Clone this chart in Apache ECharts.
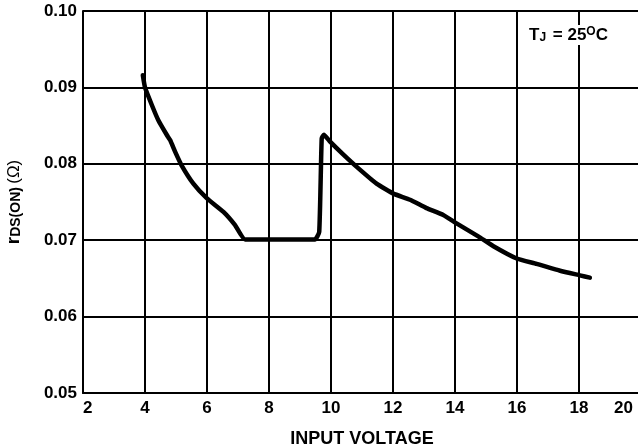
<!DOCTYPE html>
<html>
<head>
<meta charset="utf-8">
<script src="https://cdn.jsdelivr.net/npm/echarts@6/dist/echarts.min.js"></script>
<style>
html,body{margin:0;padding:0;background:#fff;}
#c{width:638px;height:447px;}
</style>
</head>
<body>
<div id="c"></div>
<script>
const xTicks = [2, 4, 6, 8, 10, 12, 14, 16, 18, 20];
const yTicks = [0.05, 0.06, 0.07, 0.08, 0.09, 0.10];
const inputVoltage = [3.93, 4.00, 4.22, 4.43, 4.70, 4.81, 4.97, 5.18, 5.56, 5.99, 6.53, 6.90, 7.23, 9.48, 9.62, 9.70, 9.77, 9.97, 10.40, 10.83, 11.47, 12.01, 12.55, 13.08, 13.62, 14.05, 14.75, 15.24, 15.99, 16.63, 17.39, 18.03, 18.35];
const rdsOn = [0.0916, 0.0900, 0.0877, 0.0857, 0.0838, 0.0831, 0.0816, 0.0798, 0.0774, 0.0755, 0.0737, 0.0720, 0.0701, 0.0701, 0.0711, 0.0833, 0.0838, 0.0829, 0.0812, 0.0796, 0.0774, 0.0761, 0.0753, 0.0742, 0.0733, 0.0722, 0.0705, 0.0692, 0.0676, 0.0669, 0.0660, 0.0654, 0.0651];

const FONT = 'Liberation Sans, Arial, sans-serif';
const chart = echarts.init(document.getElementById('c'), null, {renderer: 'canvas'});
const seriesData = inputVoltage.map((x, i) => [x, rdsOn[i]]);

chart.setOption({
  animation: false,
  backgroundColor: '#fff',
  title: {
    text: '{t|T}{j|J}{t| = 25}{o|O}{t|C}',
    left: 526,
    top: 25,
    padding: [1, 3, 1, 3],
    backgroundColor: '#fff',
    z: 100,
    textStyle: {
      fontFamily: FONT, fontWeight: 'bold', fontSize: 17, color: '#000',
      rich: {
        t: {fontFamily: FONT, fontWeight: 'bold', fontSize: 17, color: '#000', verticalAlign: 'bottom', lineHeight: 18},
        j: {fontFamily: FONT, fontWeight: 'bold', fontSize: 12, color: '#000', verticalAlign: 'bottom', padding: [0, 2, 0, 0], lineHeight: 14},
        o: {fontFamily: FONT, fontWeight: 'bold', fontSize: 12, color: '#000', verticalAlign: 'top', lineHeight: 13}
      }
    }
  },
  grid: {left: 83, right: -3, top: 11, bottom: 54, containLabel: false, outerBoundsMode: 'none'},
  xAxis: {
    type: 'value',
    min: xTicks[0],
    max: xTicks[xTicks.length - 1],
    interval: 2,
    name: 'INPUT VOLTAGE',
    nameLocation: 'middle',
    nameGap: 37,
    nameTextStyle: {fontFamily: FONT, fontWeight: 'bold', fontSize: 18, color: '#000', verticalAlign: 'top'},
    axisLine: {show: true, lineStyle: {color: '#000', width: 2}},
    axisTick: {show: false},
    splitLine: {show: true, lineStyle: {color: '#000', width: 2}},
    axisLabel: {
      fontFamily: FONT, fontWeight: 'bold', fontSize: 17, color: '#000', margin: 7,
      alignMinLabel: 'left', alignMaxLabel: 'right',
      formatter: v => v === 20 ? '{r|20}' : String(v),
      rich: {r: {fontFamily: FONT, fontWeight: 'bold', fontSize: 17, color: '#000', padding: [0, 8, 0, 0]}}
    }
  },
  yAxis: {
    type: 'value',
    min: yTicks[0],
    max: yTicks[yTicks.length - 1],
    interval: 0.01,
    name: '{r|r}{s|DS(ON)} {n|(Ω)}',
    nameLocation: 'middle',
    nameRotate: 90,
    nameGap: 60,
    nameTextStyle: {
      color: '#000',
      rich: {
        r: {fontFamily: FONT, fontWeight: 'bold', fontSize: 19, color: '#000', verticalAlign: 'bottom'},
        s: {fontFamily: FONT, fontWeight: 'bold', fontSize: 14, color: '#000', padding: [7, 0, 0, 0], verticalAlign: 'bottom'},
        n: {fontFamily: FONT, fontWeight: 'normal', fontSize: 17, color: '#000', verticalAlign: 'bottom'}
      }
    },
    axisLine: {show: true, lineStyle: {color: '#000', width: 2}},
    axisTick: {show: false},
    splitLine: {show: true, lineStyle: {color: '#000', width: 2}},
    axisLabel: {
      fontFamily: FONT, fontWeight: 'bold', fontSize: 17, color: '#000', margin: 6,
      formatter: v => v.toFixed(2)
    }
  },
  series: [{
    type: 'line',
    data: seriesData,
    showSymbol: false,
    symbol: 'none',
    smooth: 0.15,
    lineStyle: {color: '#000', width: 4.5, join: 'round', cap: 'round'},
    z: 5
  }]
});
</script>
</body>
</html>
